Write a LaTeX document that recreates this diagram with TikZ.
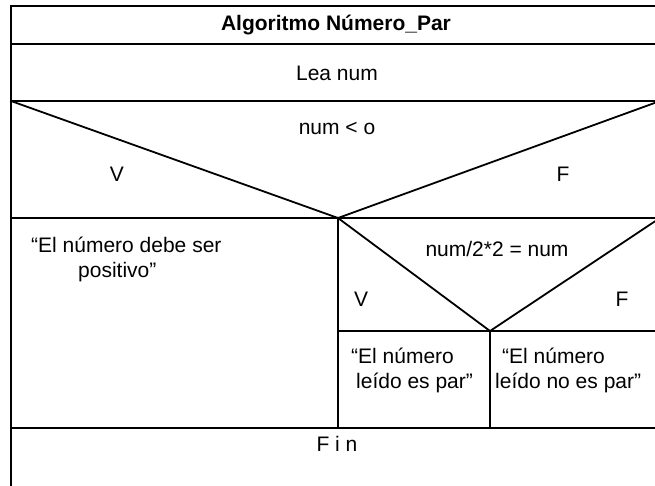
\documentclass[tikz,border=0pt]{standalone}
\usepackage{fontspec}
\setmainfont{Liberation Sans}
\begin{document}
\begin{tikzpicture}[x=1pt,y=-1pt,
  rule/.style={line width=1.8pt, line cap=rect},
  txt/.style={font=\fontsize{21}{25}\selectfont, inner sep=0pt, align=center},
  ttl/.style={txt, font=\fontsize{21}{25}\selectfont\bfseries}]
\useasboundingbox (0,0) rectangle (655,485);
\clip (0,0) rectangle (655,485);
% frame coordinates
\coordinate (tl) at (11,6);
\coordinate (tr) at (660,6);
\coordinate (bl) at (11,486);
\coordinate (a1) at (11,44);   \coordinate (a2) at (660,44);
\coordinate (b1) at (11,101);  \coordinate (b2) at (660,101);
\coordinate (c1) at (11,218);  \coordinate (c2) at (660,218);
\coordinate (v1) at (338,218);
\coordinate (d1) at (338,331); \coordinate (d2) at (660,331);
\coordinate (v2) at (490,331);
\coordinate (e1) at (11,428);  \coordinate (e2) at (660,428);
\coordinate (e3) at (338,428); \coordinate (e4) at (490,428);
% lines
\draw[rule] (tr) -- (tl) -- (bl);
\draw[rule] (a1) -- (a2);
\draw[rule] (b1) -- (b2);
\draw[rule] (c1) -- (c2);
\draw[rule] (b1) -- (v1) -- (b2);
\draw[rule] (v1) -- (e3);
\draw[rule] (d1) -- (d2);
\draw[rule] (v1) -- (v2) -- (c2);
\draw[rule] (v2) -- (e4);
\draw[rule] (e1) -- (e2);
% texts
\node[ttl] (title) at (336,25) {Algoritmo Número\_Par};
\node[txt] (lea) at (337,73) {Lea num};
\node[txt] (cond1) at (337,128) {num < o};
\node[txt] (v1t) at (117,174) {V};
\node[txt] (f1t) at (563,174) {F};
\node[txt, anchor=north west, align=left] (neg) at (31,237) {“El número debe ser\\\hspace*{47pt}positivo”};
\node[txt] (cond2) at (497,249) {num/2*2 = num};
\node[txt] (v2t) at (361,299) {V};
\node[txt] (f2t) at (622,299) {F};
\node[txt, anchor=north west, align=left] (par) at (351,348) {“El número\\\hspace*{5pt}leído es par”};
\node[txt, anchor=north west, align=left] (impar) at (495,348) {\hspace*{7pt}“El número\\leído no es par”};
\node[txt] (fin) at (337,444) {F i n};
\end{tikzpicture}
\end{document}
